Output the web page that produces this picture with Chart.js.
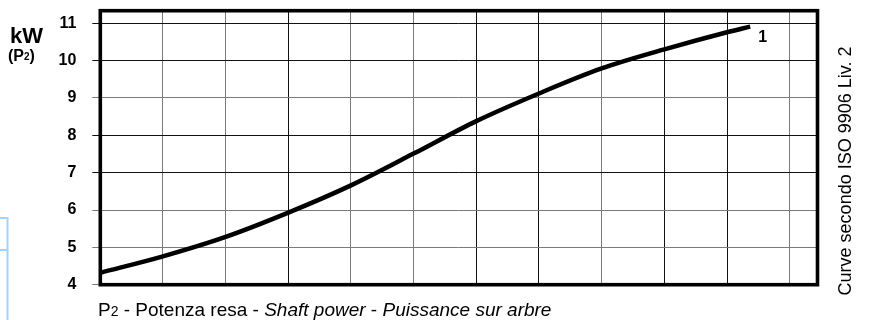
<!DOCTYPE html>
<html>
<head>
<meta charset="utf-8">
<script src="https://cdn.jsdelivr.net/npm/chart.js@4/dist/chart.umd.min.js"></script>
<style>
  html, body { margin: 0; padding: 0; background: #fff; }
  #wrap { position: relative; width: 880px; height: 320px; }
</style>
</head>
<body>
<div id="wrap"><canvas id="powerChart" width="880" height="320"></canvas></div>
<script>
// P2 curve, x in grid divisions, y in kW
const flowSteps = [0, 1, 2, 3, 4, 5, 6, 7, 8, 9, 10, 10.37];
const powerKW = [4.32, 4.76, 5.28, 5.93, 6.66, 7.51, 8.38, 9.12, 9.79, 10.30, 10.76, 10.91];
const yTicks = [4, 5, 6, 7, 8, 9, 10, 11];
const xGrid = [0, 1, 2, 3, 4, 5, 6, 7, 8, 9, 10, 11];
const curveLabel = '1';

const FONT = '"Liberation Sans", Arial, sans-serif';
const darkV = new Set([3, 6, 7, 9, 10]);
const darkH = new Set([7, 8, 10, 11]);

const decor = {
  id: 'decor',
  afterDraw(chart) {
    const ctx = chart.ctx;
    const a = chart.chartArea;
    const xs = chart.scales.x, ys = chart.scales.y;
    ctx.save();

    // heavy frame
    ctx.lineWidth = 3.6;
    ctx.strokeStyle = '#000';
    ctx.strokeRect(a.left, a.top, a.right - a.left, a.bottom - a.top);

    // curve number at the end of the line
    const n = flowSteps.length - 1;
    ctx.fillStyle = '#000';
    ctx.font = 'bold 16px ' + FONT;
    ctx.textBaseline = 'alphabetic';
    ctx.fillText(curveLabel, xs.getPixelForValue(flowSteps[n]) + 8, ys.getPixelForValue(powerKW[n]) + 15);

    // unit label
    ctx.font = 'bold 22px ' + FONT;
    ctx.fillText('kW', 10, 43);
    ctx.font = 'bold 16px ' + FONT;
    let x = 8;
    ctx.fillText('(P', x, 61); x += ctx.measureText('(P').width;
    ctx.font = 'bold 10px ' + FONT;
    ctx.fillText('2', x, 60); x += ctx.measureText('2').width;
    ctx.font = 'bold 16px ' + FONT;
    ctx.fillText(')', x, 61);

    // x axis caption
    const parts = [
      ['P', '19px'], ['2', '14px'], [' - Potenza resa - ', '19px'],
      ['Shaft power', 'italic 19px'], [' - ', '19px'], ['Puissance sur arbre', 'italic 19px']
    ];
    x = 98;
    parts.forEach(([t, f]) => {
      ctx.font = f + ' ' + FONT;
      ctx.fillText(t, x, 316);
      x += ctx.measureText(t).width;
    });

    // vertical note on the right
    ctx.save();
    ctx.translate(846, 171);
    ctx.rotate(-Math.PI / 2);
    ctx.font = '18px ' + FONT;
    ctx.textAlign = 'center';
    ctx.textBaseline = 'middle';
    ctx.fillText('Curve secondo ISO 9906 Liv. 2', 0, 0);
    ctx.restore();

    // light blue box edge on the left
    ctx.strokeStyle = '#a6d2ff';
    ctx.lineWidth = 2;
    ctx.beginPath();
    ctx.moveTo(0, 218); ctx.lineTo(7.5, 218); ctx.lineTo(7.5, 320);
    ctx.moveTo(0, 250); ctx.lineTo(7.5, 250);
    ctx.stroke();

    ctx.restore();
  }
};

// keep the plot area exactly where the layout padding puts it
function noScalePadding(s) {
  s.paddingTop = 0; s.paddingBottom = 0; s.paddingLeft = 0; s.paddingRight = 0;
}

new Chart(document.getElementById('powerChart'), {
  type: 'line',
  data: {
    datasets: [{
      data: flowSteps.map((v, i) => ({ x: v, y: powerKW[i] })),
      borderColor: '#000',
      borderWidth: 4.5,
      pointRadius: 0,
      fill: false,
      cubicInterpolationMode: 'monotone'
    }]
  },
  options: {
    responsive: false,
    animation: false,
    layout: { padding: { left: 0, top: 10.7, right: 62.5, bottom: 35.3 } },
    plugins: { legend: { display: false }, tooltip: { enabled: false } },
    scales: {
      x: {
        type: 'linear',
        min: 0,
        max: 11.444,
        afterBuildTicks: s => { s.ticks = xGrid.map(v => ({ value: v })); },
        afterFit: s => { s.height = 0; noScalePadding(s); },
        ticks: { display: false },
        border: { display: false },
        grid: {
          drawTicks: false,
          lineWidth: 1,
          color: c => darkV.has(c.tick && c.tick.value) ? '#111' : '#7a7a7a'
        }
      },
      y: {
        type: 'linear',
        min: 4,
        max: 11.337,
        afterBuildTicks: s => { s.ticks = yTicks.map(v => ({ value: v })); },
        afterFit: s => { s.width = 100.3; noScalePadding(s); },
        border: { display: false },
        ticks: {
          color: '#000',
          padding: 16,
          font: { family: FONT, size: 16, weight: 'bold' }
        },
        grid: {
          tickLength: 8,
          lineWidth: 1,
          color: c => darkH.has(c.tick && c.tick.value) ? '#111' : '#7a7a7a'
        }
      }
    }
  },
  plugins: [decor]
});
</script>
</body>
</html>
